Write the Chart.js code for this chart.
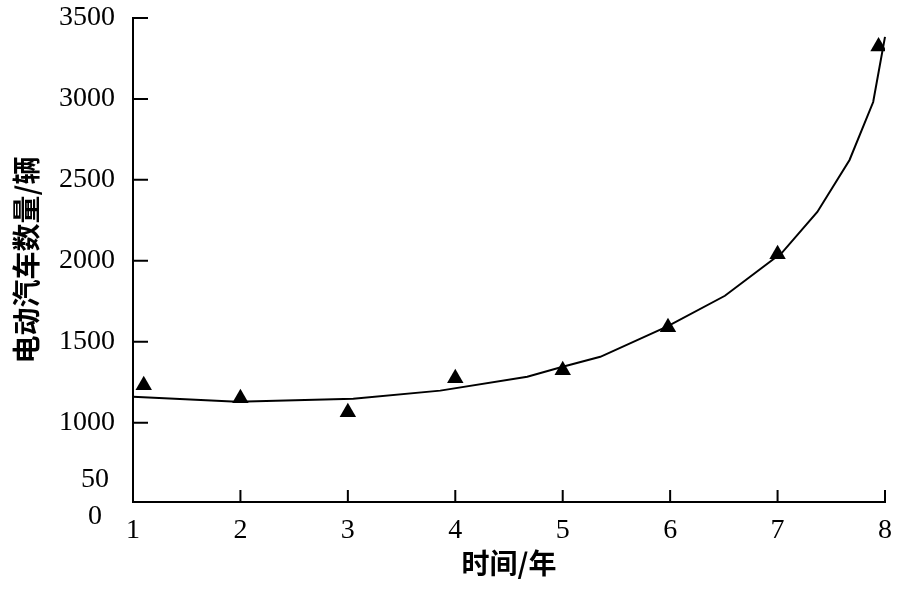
<!DOCTYPE html>
<html>
<head>
<meta charset="utf-8">
<script src="https://cdn.jsdelivr.net/npm/chart.js@4.4.1/dist/chart.umd.min.js"></script>
<style>
  html, body { margin: 0; padding: 0; background: #fff; }
  #wrap { width: 902px; height: 589px; }
</style>
</head>
<body>
<div id="wrap"><canvas id="c" width="902" height="589"></canvas></div>
<script>
// observed points (year, count)
const obsYears = [1.1, 2, 3, 4, 5, 5.98, 7, 7.94];
const obsCounts = [1231, 1151, 1065, 1275, 1324, 1590, 2040, 3324];

// fitted curve vertices
const fitYears = [1, 1.97, 3.05, 3.86, 4.67, 5, 5.35, 5.97, 6.51, 7.04, 7.37, 7.67, 7.89, 8];
const fitCounts = [1160, 1130, 1148, 1198, 1284, 1346, 1407, 1593, 1784, 2049, 2302, 2623, 2981, 3383];

const yTicks = [1000, 1500, 2000, 2500, 3000, 3500];
// odd labels at the foot of the y axis
const yExtraValues = [648, 420];
const yExtraLabels = ["50", "0"];

const serif = "'Liberation Serif', 'Times New Roman', serif";
const cjk = "'Noto Sans CJK SC', sans-serif";

// inward tick marks + stray bottom labels
const innerTicks = {
    id: "innerTicks",
    afterDraw(chart) {
        const ctx = chart.ctx;
        const {left, bottom} = chart.chartArea;
        const x = chart.scales.x, y = chart.scales.y;
        ctx.save();
        ctx.strokeStyle = "#000";
        ctx.lineWidth = 2;
        ctx.beginPath();
        x.ticks.forEach(t => {
            if (t.value === x.min) return;
            const px = x.getPixelForValue(t.value);
            ctx.moveTo(px, bottom);
            ctx.lineTo(px, bottom - 12);
        });
        y.ticks.forEach(t => {
            const py = y.getPixelForValue(t.value);
            ctx.moveTo(left, py);
            ctx.lineTo(left + 15, py);
        });
        ctx.stroke();

        ctx.fillStyle = "#000";
        ctx.font = "28px " + serif;
        ctx.textAlign = "center";
        ctx.textBaseline = "middle";
        yExtraValues.forEach((v, i) => {
            ctx.fillText(yExtraLabels[i], left - 38, y.getPixelForValue(v));
        });
        ctx.restore();
    }
};

new Chart(document.getElementById("c"), {
    type: "scatter",
    data: {
        datasets: [
            {
                data: obsYears.map((v, i) => ({x: v, y: obsCounts[i]})),
                pointStyle: "triangle",
                pointRadius: 9.5,
                backgroundColor: "#000",
                borderWidth: 0,
                order: 1
            },
            {
                data: fitYears.map((v, i) => ({x: v, y: fitCounts[i]})),
                showLine: true,
                pointRadius: 0,
                borderColor: "#000",
                borderWidth: 2,
                tension: 0,
                fill: false,
                clip: false,
                order: 2
            }
        ]
    },
    options: {
        responsive: false,
        animation: false,
        layout: { padding: 0 },
        plugins: { legend: { display: false }, tooltip: { enabled: false } },
        scales: {
            x: {
                type: "linear",
                min: 1,
                max: 8,
                grid: { display: true, drawOnChartArea: false, drawTicks: false },
                border: { display: true, color: "#000", width: 2 },
                ticks: {
                    stepSize: 1,
                    padding: 12,
                    color: "#000",
                    font: { family: serif, size: 28 },
                    maxRotation: 0,
                    callback: v => String(v)
                },
                title: {
                    display: true,
                    text: "时间/年",
                    color: "#000",
                    font: { family: cjk, size: 28, weight: "bold" },
                    padding: { top: 0, bottom: 9 }
                },
                afterFit(scale) {
                    scale.height = 87;
                    scale.paddingLeft = 0;
                    scale.paddingRight = 17;
                }
            },
            y: {
                min: 510,
                max: 3500,
                grid: { display: true, drawOnChartArea: false, drawTicks: false },
                border: { display: true, color: "#000", width: 2 },
                ticks: {
                    padding: 18,
                    color: "#000",
                    font: { family: serif, size: 28 },
                    callback: v => String(v)
                },
                afterBuildTicks(scale) {
                    scale.ticks = yTicks.map(v => ({value: v}));
                },
                title: {
                    display: true,
                    text: "电动汽车数量/辆",
                    color: "#000",
                    font: { family: cjk, size: 28, weight: "bold" },
                    padding: { top: 10, bottom: 0 }
                },
                afterFit(scale) {
                    scale.width = 133;
                    scale.paddingTop = 18;
                    scale.paddingBottom = 0;
                }
            }
        }
    },
    plugins: [innerTicks]
});
</script>
</body>
</html>
